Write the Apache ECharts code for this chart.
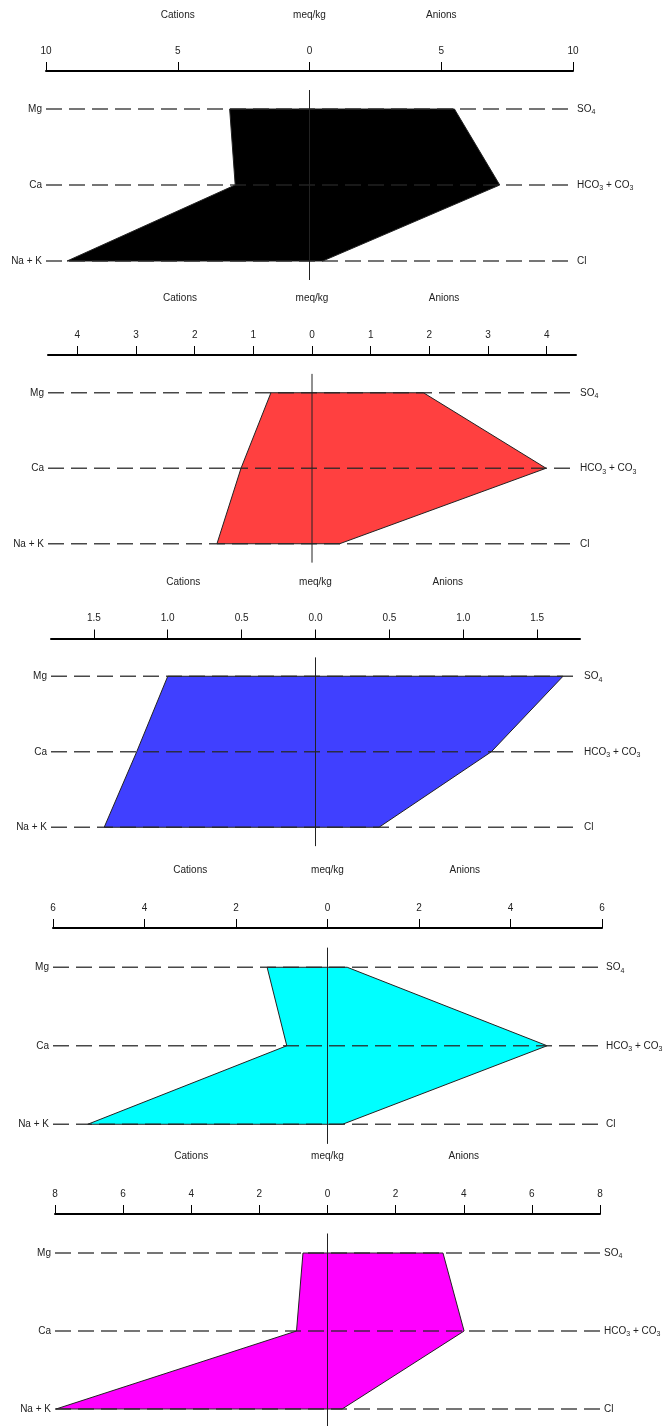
<!DOCTYPE html>
<html>
<head>
<meta charset="utf-8">
<script src="https://cdn.jsdelivr.net/npm/echarts@6/dist/echarts.min.js"></script>
<style>
  html, body { margin: 0; padding: 0; background: #fff; }
  #chart { width: 665px; height: 1426px; }
</style>
</head>
<body>
<div id="chart"></div>
<script>
// Stiff diagrams: five water samples, cations to the left, anions to the right (meq/kg)
const cationNames = ['Mg', 'Ca', 'Na + K'];
const anionNames = ['SO4', 'HCO3 + CO3', 'Cl'];
const rowLevels = [2, 1, 0];            // Mg/SO4 on top, Na+K/Cl at bottom
const axisTitles = ['Cations', 'meq/kg', 'Anions'];

// sample values, in the order of cationNames / anionNames
const cations1 = [3.03, 2.82, 9.20];
const anions1  = [5.50, 7.22, 0.50];
const cations2 = [0.70, 1.21, 1.62];
const anions2  = [1.90, 3.99, 0.47];
const cations3 = [1.00, 1.21, 1.43];
const anions3  = [1.675, 1.19, 0.43];
const cations4 = [1.32, 0.89, 5.24];
const anions4  = [0.43, 4.80, 0.33];
const cations5 = [0.72, 0.91, 7.97];
const anions5  = [3.39, 4.01, 0.43];

// axis half-range and tick labels of each diagram
const axisLimits = [10, 4.5, 1.79, 6, 8];
const ticks1 = [-10, -5, 0, 5, 10];
const ticks2 = [-4, -3, -2, -1, 0, 1, 2, 3, 4];
const ticks3 = [-1.5, -1, -0.5, 0, 0.5, 1, 1.5];
const ticks4 = [-6, -4, -2, 0, 2, 4, 6];
const ticks5 = [-8, -6, -4, -2, 0, 2, 4, 6, 8];
const tickDecimals = [0, 0, 1, 0, 0];

const sampleColors = ['#000000', '#FF4040', '#4040FF', '#00FFFF', '#FF00FF'];

const samples = [
  { cations: cations1, anions: anions1, ticks: ticks1 },
  { cations: cations2, anions: anions2, ticks: ticks2 },
  { cations: cations3, anions: anions3, ticks: ticks3 },
  { cations: cations4, anions: anions4, ticks: ticks4 },
  { cations: cations5, anions: anions5, ticks: ticks5 }
];

// plot-area placement of each diagram (pixels)
const layout = [
  { left: 46, right: 92, top: 71,    height: 228,   titleOffset: 36 },
  { left: 48, right: 89, top: 355,   height: 226.5, titleOffset: 37 },
  { left: 51, right: 85, top: 638.5, height: 226.5, titleOffset: 36 },
  { left: 53, right: 63, top: 928,   height: 235.5, titleOffset: 38 },
  { left: 55, right: 65, top: 1214,  height: 234,   titleOffset: 38 }
];
const zeroLineSpan = [-0.25, 2.25];

const FONT = '"Liberation Sans", Arial, sans-serif';
const TEXT = '#222';

// chemical formula -> rich text with subscript digits
function formula(name) {
  return name.replace(/(\D+)|(\d+)/g, (m, txt, num) =>
    txt ? '{t|' + txt + '}' : '{s|' + num + '}');
}

const grid = [], xAxis = [], yAxis = [], series = [];

samples.forEach((s, i) => {
  const L = layout[i];
  const R = axisLimits[i];
  grid.push({
    left: L.left, right: L.right, top: L.top, height: L.height,
    containLabel: false, outerBoundsMode: 'none'
  });

  // scale axis
  xAxis.push({
    type: 'value', gridIndex: i, position: 'top', min: -R, max: R,
    axisLine: { show: true, onZero: false, lineStyle: { color: '#000', width: 2 } },
    axisTick: { show: true, customValues: s.ticks, length: 9, lineStyle: { color: '#000', width: 1 } },
    axisLabel: {
      customValues: s.ticks, margin: 15, fontSize: 10, fontFamily: FONT, color: TEXT,
      formatter: v => Math.abs(v).toFixed(tickDecimals[i])
    },
    splitLine: { show: false }
  });
  // header line: Cations / meq/kg / Anions
  xAxis.push({
    type: 'value', gridIndex: i, position: 'top', offset: L.titleOffset, min: -R, max: R,
    axisLine: { show: false, onZero: false }, axisTick: { show: false },
    axisLabel: {
      customValues: [-R / 2, 0, R / 2], margin: 15, fontSize: 10, fontFamily: FONT, color: TEXT,
      formatter: v => (v < 0 ? axisTitles[0] : v > 0 ? axisTitles[2] : axisTitles[1])
    },
    splitLine: { show: false }
  });

  // ion names on both sides
  yAxis.push({
    type: 'value', gridIndex: i, position: 'left', min: -0.5, max: 2.5,
    axisLine: { show: false, onZero: false }, axisTick: { show: false }, splitLine: { show: false },
    axisLabel: {
      customValues: rowLevels, margin: 4, fontSize: 10, fontFamily: FONT, color: TEXT,
      formatter: v => cationNames[rowLevels.indexOf(v)]
    }
  });
  yAxis.push({
    type: 'value', gridIndex: i, position: 'right', min: -0.5, max: 2.5,
    axisLine: { show: false, onZero: false }, axisTick: { show: false }, splitLine: { show: false },
    axisLabel: {
      customValues: rowLevels, margin: 4, fontFamily: FONT, color: TEXT,
      formatter: v => formula(anionNames[rowLevels.indexOf(v)]),
      rich: {
        t: { fontSize: 10, fontFamily: FONT, color: TEXT, lineHeight: 14 },
        s: { fontSize: 7, fontFamily: FONT, color: TEXT, lineHeight: 8, verticalAlign: 'bottom' }
      }
    }
  });

  const xi = 2 * i, yi = 2 * i;
  const pts = [];
  rowLevels.forEach((lvl, k) => pts.push([-s.cations[k], lvl]));
  rowLevels.slice().reverse().forEach((lvl, k) => pts.push([s.anions[2 - k], lvl]));

  // the Stiff polygon
  series.push({
    type: 'custom', xAxisIndex: xi, yAxisIndex: yi, silent: true, z: 2, clip: false,
    data: pts,
    renderItem: (params, api) => {
      if (params.dataIndex !== 0) return null;
      return {
        type: 'polygon',
        shape: { points: pts.map(p => api.coord(p)) },
        style: { fill: sampleColors[i], stroke: '#222', lineWidth: 1 }
      };
    }
  });

  // dashed guide for each ion row
  series.push({
    type: 'custom', xAxisIndex: xi, yAxisIndex: yi, silent: true, z: 3, clip: false,
    encode: { x: [0, 1], y: 2 },
    data: rowLevels.map(lvl => [-R, R, lvl]),
    renderItem: (params, api) => {
      const a = api.coord([api.value(0), api.value(2)]);
      const b = api.coord([api.value(1), api.value(2)]);
      return {
        type: 'line',
        shape: { x1: a[0], y1: a[1], x2: b[0], y2: b[1] },
        style: { stroke: 'rgba(40,40,40,0.85)', lineWidth: 1.5, lineDash: [16, 7] }
      };
    }
  });

  // zero line
  series.push({
    type: 'line', xAxisIndex: xi, yAxisIndex: yi, silent: true, z: 4,
    symbol: 'none', animation: false,
    data: [[0, zeroLineSpan[0]], [0, zeroLineSpan[1]]],
    lineStyle: { color: '#222', width: 1 }
  });
});

const chart = echarts.init(document.getElementById('chart'), null, { renderer: 'canvas' });
chart.setOption({
  backgroundColor: '#fff',
  animation: false,
  grid, xAxis, yAxis, series
});
</script>
</body>
</html>
